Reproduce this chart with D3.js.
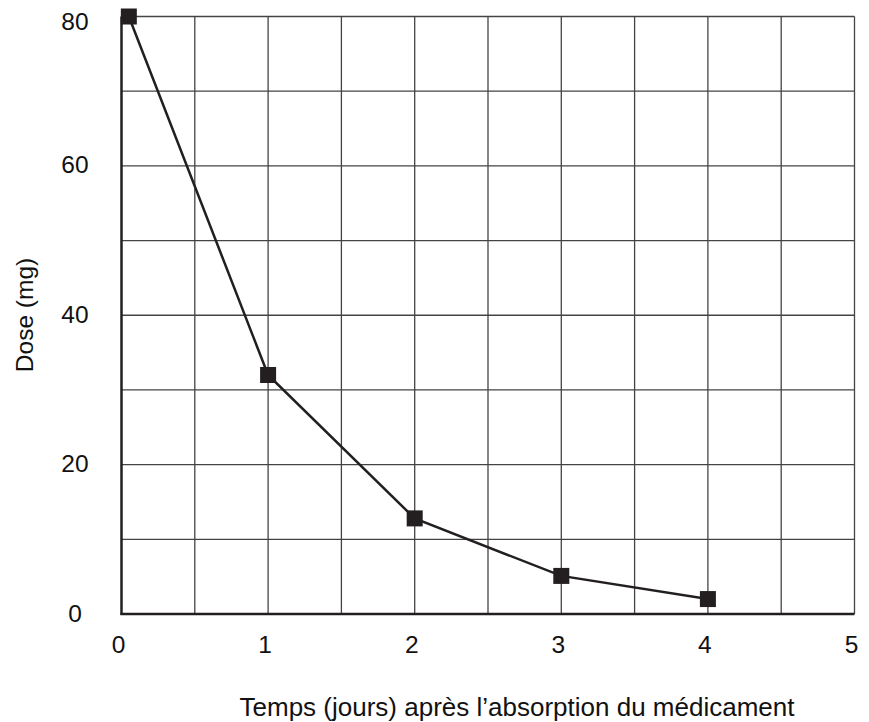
<!DOCTYPE html>
<html><head><meta charset="utf-8">
<script src="https://cdn.jsdelivr.net/npm/d3@7"></script>
<style>body{margin:0;background:#fff}</style>
</head><body>
<svg id="c" width="869" height="722"></svg>
<script>
const days = [0.05, 1, 2, 3, 4];
const dose = [80, 32, 12.8, 5.1, 2.0];
const xTicks = [0, 1, 2, 3, 4, 5];
const yTicks = [0, 20, 40, 60, 80];
const xGrid = [0.5, 1, 1.5, 2, 2.5, 3, 3.5, 4, 4.5, 5];
const yGrid = [10, 20, 30, 40, 50, 60, 70, 80];
const xTitle = "Temps (jours) après l’absorption du médicament";
const yTitle = "Dose (mg)";

const svg = d3.select("#c");
const x = d3.scaleLinear().domain([0, 5]).range([121.5, 854.5]);
const y = d3.scaleLinear().domain([0, 80]).range([614, 16.5]);
const font = "Liberation Sans, Arial, Helvetica, sans-serif";

const g = svg.append("g");
g.selectAll(".vg").data(xGrid).join("line")
  .attr("x1", d => x(d)).attr("x2", d => x(d))
  .attr("y1", y(0)).attr("y2", y(80))
  .attr("stroke", "#444").attr("stroke-width", 1.3);
g.selectAll(".hg").data(yGrid).join("line")
  .attr("x1", x(0)).attr("x2", x(5))
  .attr("y1", d => y(d)).attr("y2", d => y(d))
  .attr("stroke", "#444").attr("stroke-width", 1.3);

// axes
g.append("line").attr("x1", x(0)).attr("x2", x(0)).attr("y1", y(80)).attr("y2", y(0) + 1)
  .attr("stroke", "#231f20").attr("stroke-width", 2.5);
g.append("line").attr("x1", x(0) - 1).attr("x2", x(5)).attr("y1", y(0)).attr("y2", y(0))
  .attr("stroke", "#231f20").attr("stroke-width", 2.5);

// tick labels
g.selectAll(".xt").data(xTicks).join("text")
  .attr("x", d => x(d) - 3).attr("y", 653)
  .attr("text-anchor", "middle")
  .attr("font-family", font).attr("font-size", 24.5).attr("fill", "#111")
  .text(d => d);
g.selectAll(".yt").data(yTicks).join("text")
  .attr("x", 75).attr("y", d => Math.max(y(d) + 7.5, 30))
  .attr("text-anchor", "middle")
  .attr("font-family", font).attr("font-size", 24.5).attr("fill", "#111")
  .text(d => d);

// titles
svg.append("text").attr("x", 517).attr("y", 716).attr("text-anchor", "middle")
  .attr("font-family", font).attr("font-size", 26).attr("fill", "#111").text(xTitle);
svg.append("text").attr("transform", "translate(33,315) rotate(-90)").attr("text-anchor", "middle")
  .attr("font-family", font).attr("font-size", 24.5).attr("fill", "#111").text(yTitle);

// data
const pts = days.map((d, i) => [d, dose[i]]);
g.append("path").datum(pts)
  .attr("d", d3.line().x(d => x(d[0])).y(d => y(d[1])))
  .attr("fill", "none").attr("stroke", "#231f20").attr("stroke-width", 2.5);
g.selectAll(".m").data(pts).join("rect")
  .attr("x", d => x(d[0]) - 8).attr("y", d => y(d[1]) - 8)
  .attr("width", 16).attr("height", 16).attr("fill", "#231f20");
</script>
</body></html>
